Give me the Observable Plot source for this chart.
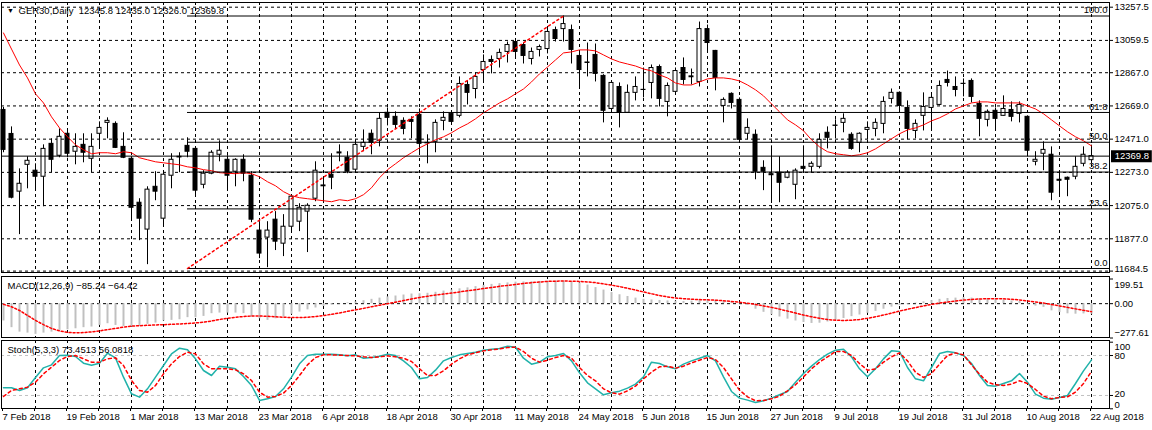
<!DOCTYPE html>
<html><head><meta charset="utf-8">
<script src="https://cdn.jsdelivr.net/npm/d3@7"></script>
<script src="https://cdn.jsdelivr.net/npm/@observablehq/plot@0.6"></script>
<style>
body{margin:0;background:#fff;}
#chart{position:relative;width:1152px;height:430px;overflow:hidden;background:#fff;}
#chart svg{display:block;}
</style></head><body><div id="chart"></div>
<script>
// ---------- data ----------
const symbol = "GER30", period = "Daily";
const dates = [
"2018-02-07","2018-02-08","2018-02-09","2018-02-12","2018-02-13","2018-02-14","2018-02-15","2018-02-16","2018-02-19","2018-02-20",
"2018-02-21","2018-02-22","2018-02-23","2018-02-26","2018-02-27","2018-02-28","2018-03-01","2018-03-02","2018-03-05","2018-03-06",
"2018-03-07","2018-03-08","2018-03-09","2018-03-12","2018-03-13","2018-03-14","2018-03-15","2018-03-16","2018-03-19","2018-03-20",
"2018-03-21","2018-03-22","2018-03-23","2018-03-26","2018-03-27","2018-03-28","2018-03-29","2018-04-03","2018-04-04","2018-04-05",
"2018-04-06","2018-04-09","2018-04-10","2018-04-11","2018-04-12","2018-04-13","2018-04-16","2018-04-17","2018-04-18","2018-04-19",
"2018-04-20","2018-04-23","2018-04-24","2018-04-25","2018-04-26","2018-04-27","2018-04-30","2018-05-02","2018-05-03","2018-05-04",
"2018-05-07","2018-05-08","2018-05-09","2018-05-10","2018-05-11","2018-05-14","2018-05-15","2018-05-16","2018-05-17","2018-05-18",
"2018-05-22","2018-05-23","2018-05-24","2018-05-25","2018-05-28","2018-05-29","2018-05-30","2018-05-31","2018-06-01","2018-06-04",
"2018-06-05","2018-06-06","2018-06-07","2018-06-08","2018-06-11","2018-06-12","2018-06-13","2018-06-14","2018-06-15","2018-06-18",
"2018-06-19","2018-06-20","2018-06-21","2018-06-22","2018-06-25","2018-06-26","2018-06-27","2018-06-28","2018-06-29","2018-07-02",
"2018-07-03","2018-07-04","2018-07-05","2018-07-06","2018-07-09","2018-07-10","2018-07-11","2018-07-12","2018-07-13","2018-07-16",
"2018-07-17","2018-07-18","2018-07-19","2018-07-20","2018-07-23","2018-07-24","2018-07-25","2018-07-26","2018-07-27","2018-07-30",
"2018-07-31","2018-08-01","2018-08-02","2018-08-03","2018-08-06","2018-08-07","2018-08-08","2018-08-09","2018-08-10","2018-08-13",
"2018-08-14","2018-08-15","2018-08-16","2018-08-17","2018-08-20","2018-08-21","2018-08-22"];

const open = [
12645,12502,12158,12318,12283,12247,12443,12372,12503,12396,
12437,12354,12503,12568,12562,12425,12354,12092,11932,12187,
11997,12253,12362,12431,12413,12199,12265,12378,12348,12277,
12348,12253,11926,11884,11991,11848,11949,11979,12039,12116,
12195,12259,12386,12360,12289,12425,12503,12461,12628,12604,
12580,12586,12616,12449,12455,12580,12622,12610,12794,12770,
12883,12943,12949,12991,13050,13032,12949,13003,13008,13121,
13127,13121,12967,12925,12973,12848,12651,12782,12628,12747,
12765,12806,12901,12693,12753,12895,12845,12812,13127,12997,
12669,12741,12705,12503,12497,12300,12262,12271,12241,12199,
12306,12306,12306,12509,12550,12568,12497,12449,12526,12532,
12562,12711,12747,12657,12520,12610,12657,12675,12824,12782,
12800,12818,12681,12586,12640,12610,12645,12622,12604,12336,
12384,12378,12229,12241,12247,12324,12345.8];
const high = [
12660,12544,12294,12366,12324,12437,12473,12532,12532,12503,
12503,12503,12574,12598,12574,12509,12366,12116,12187,12277,
12277,12384,12390,12479,12420,12283,12402,12461,12372,12354,
12378,12277,11979,11979,12039,12021,12134,12086,12086,12336,
12247,12384,12437,12396,12467,12526,12526,12628,12657,12634,
12598,12604,12651,12497,12586,12634,12634,12842,12818,12866,
12973,12967,13008,13050,13056,13044,13014,13032,13139,13139,
13205,13151,12991,13044,13038,12855,12812,12806,12794,12842,
12895,12913,12913,12806,12895,12955,12889,13169,13151,13000,
12717,12747,12717,12592,12526,12342,12431,12366,12283,12294,
12431,12336,12503,12544,12586,12622,12509,12509,12574,12592,
12723,12770,12753,12699,12586,12747,12747,12818,12877,12842,
12830,12830,12699,12645,12657,12729,12693,12693,12610,12396,
12455,12425,12277,12245,12366,12425,12435.0];
const low = [
12390,12115,11902,12175,12164,12068,12271,12360,12360,12318,
12330,12271,12413,12473,12415,12355,11991,11866,11723,12104,
11949,12175,12271,12360,12128,12175,12259,12336,12170,12187,
12217,11973,11759,11705,11807,11771,11914,11920,11795,12098,
12104,12170,12336,12265,12277,12396,12378,12425,12550,12532,
12497,12473,12384,12324,12390,12521,12556,12598,12675,12711,
12812,12860,12895,12925,12949,12919,12913,12961,12979,13050,
13050,12919,12776,12842,12812,12568,12640,12538,12625,12699,
12717,12711,12663,12604,12745,12794,12794,12782,12985,12759,
12568,12651,12449,12467,12229,12164,12092,12092,12235,12110,
12271,12271,12294,12413,12473,12509,12405,12390,12467,12485,
12503,12681,12628,12467,12473,12520,12532,12670,12782,12723,
12723,12687,12485,12544,12526,12608,12574,12568,12366,12312,
12283,12104,12128,12128,12229,12306,12326.0];
const close = [
12407,12122,12205,12342,12247,12413,12348,12485,12384,12425,
12390,12425,12538,12580,12419,12360,12062,11997,12170,12158,
12259,12348,12366,12396,12164,12265,12390,12402,12253,12348,
12265,11991,11789,11926,11860,11949,12128,12062,12074,12283,
12190,12241,12392,12277,12437,12449,12449,12592,12598,12556,
12532,12574,12443,12446,12568,12598,12574,12800,12747,12842,
12931,12931,12985,13032,12991,12967,12991,13020,13110,13068,
13157,13003,12883,12928,12860,12640,12806,12628,12747,12782,
12764,12895,12711,12788,12877,12824,12840,13127,13044,12836,
12705,12687,12467,12538,12277,12277,12256,12211,12271,12283,
12294,12324,12467,12479,12552,12592,12413,12503,12538,12568,
12693,12747,12669,12532,12562,12663,12717,12788,12806,12764,
12801,12723,12592,12634,12592,12651,12604,12675,12402,12348,
12407,12152,12223,12229,12306,12378,12369.8];
const ma = [
13104,13008,12913,12836,12741,12687,12604,12538,12485,12437,
12408,12384,12390,12390,12384,12396,12390,12360,12348,12336,
12330,12324,12318,12306,12300,12289,12283,12271,12268,12265,
12271,12265,12247,12217,12193,12158,12134,12122,12116,12110,
12104,12098,12110,12104,12116,12140,12181,12241,12289,12324,
12360,12390,12419,12443,12467,12485,12509,12538,12562,12592,
12628,12657,12687,12711,12741,12770,12812,12860,12901,12943,
12985,12991,13003,13003,12997,12973,12949,12931,12919,12907,
12889,12878,12854,12836,12806,12794,12794,12812,12830,12836,
12836,12830,12818,12794,12765,12729,12681,12634,12586,12556,
12521,12467,12425,12396,12384,12378,12372,12378,12390,12413,
12443,12473,12503,12526,12538,12556,12580,12598,12622,12651,
12669,12687,12693,12693,12687,12687,12687,12687,12669,12651,
12622,12586,12550,12515,12485,12461,12431];
const macdMain = [
-140,-194,-230,-238,-248,-238,-230,-216,-211,-203,
-194,-189,-176,-162,-176,-184,-189,-184,-167,-157,
-140,-135,-130,-113,-113,-103,-81,-76,-76,-76,
-81,-108,-122,-135,-122,-108,-86,-68,-50,-35,
-22,-10,-2,6,15,24,35,45,55,62,
70,78,80,84,92,102,110,120,128,138,
148,156,162,168,174,176,178,180,182,184,
182,175,168,150,130,110,90,72,58,45,
35,30,26,22,20,18,20,28,30,28,
22,15,8,-15,-45,-70,-90,-108,-125,-140,
-152,-160,-158,-148,-135,-120,-105,-92,-78,-62,
-45,-28,-15,-5,5,15,25,35,42,45,
48,45,40,38,35,30,22,18,-5,-20,
-30,-58,-72,-82,-85,-83,-85.24];
const macdSignal = [
-5,-25,-55,-95,-135,-170,-200,-220,-232,-236,
-234,-228,-220,-210,-200,-190,-182,-178,-175,-172,
-170,-167,-164,-160,-156,-150,-140,-128,-118,-110,
-104,-100,-100,-102,-106,-110,-112,-112,-110,-104,
-96,-86,-75,-62,-50,-38,-25,-12,0,12,
25,38,50,60,70,78,86,95,104,113,
122,131,140,148,156,163,170,175,180,182,
183,182,180,176,170,160,150,138,125,110,
95,80,66,55,46,40,36,33,31,28,
24,18,12,4,-6,-18,-30,-44,-60,-76,
-92,-106,-118,-128,-134,-136,-134,-128,-118,-106,
-92,-76,-60,-45,-32,-18,-6,5,14,22,
29,34,38,40,40,39,36,30,22,14,
5,-6,-18,-30,-42,-54,-64.42];
const stochMain = [
31.5,31.5,27.5,31.5,47,61.5,66,80,80.5,78.5,
68.5,65.5,68.5,83.5,76.5,47.5,22.5,17.5,30,47.5,
65,82.5,91,88.5,75,57.5,50,64,62.5,60,
48.5,35,12.5,15,18.5,30,47.5,67.5,80,82,
82,82,81,79.5,81,76,77,79,82,80,
72,62,45,47,58,72,77,81,83,85,
88,89.5,90.5,94,92.5,76,67,70,78,80,
83,72,54,39,30,21,24,26.5,31,37,
48,70,68,63,60,67,72,76,80,72,
48,26,16,13,9.5,12,16,21,26,40,
53,64,74,82,88,89.5,78,60,48,60,
75,87,86,62,45,42,62,83,86,84,
80,68,50,35,34,38,42,53,40,22,
16,14.5,17,20,38,57,73.4513];
const stochSignal = [
18.5,27.5,30,32.5,40,52.5,62.5,72.5,78.5,80,
75,70,70,75,76.5,65,42.5,27.5,25,35,
52.5,67.5,78.5,85,82.5,67.5,60,60,60,58.5,
52.5,42.5,25,17.5,18.5,23.5,35,50,66,77,
81,81,80.5,80,79.5,78,77,78,79.5,78,
76,71,60,50,50,57,67,75,81,84,
87,88.5,90,92,92.5,86,76,70,73,77,
80,76,62,50,42,30,24,22,27,34,
45,55,63,64,61,64,69,73,77,74,
62,45,28,18,12,12.5,15,19,27,36,
48,60,70,78,86,86,80,68,58,60,
70,78,84,72,55,47,53,67,80,84,
81,66,52,40,36,35,37,42,38,29,
19,15,17,18,25,38,56.0818];

const priceTicks = [13257.5, 13059.5, 12867.0, 12669.0, 12471.0, 12273.0, 12075.0, 11877.0, 11684.5];
const macdTicks = [199.51, 0, -277.61];
const stochTicks = [100, 80, 20, 0];
const stochLevels = [80, 20];
const dateTickLabels = ["7 Feb 2018","19 Feb 2018","1 Mar 2018","13 Mar 2018","23 Mar 2018","6 Apr 2018","18 Apr 2018","30 Apr 2018","11 May 2018","24 May 2018","5 Jun 2018","15 Jun 2018","27 Jun 2018","9 Jul 2018","19 Jul 2018","31 Jul 2018","10 Aug 2018","22 Aug 2018"];
const fibLevels = [0, 23.6, 38.2, 50.0, 61.8, 100.0];
const fibLow = 11700, fibHigh = 13205;
const fibStartDate = "2018-03-12", fibEndDate = "2018-05-22";

// ---------- build ----------
const N = dates.length;
const fmtDate = d3.utcFormat("%-d %b %Y");
const bars = dates.map((d, i) => ({i, date: d, o: open[i], h: high[i], l: low[i], c: close[i], ma: ma[i],
  m: macdMain[i], s: macdSignal[i], k: stochMain[i], ks: stochSignal[i]}));
const xDomain = [-0.25, N + 1.25];
const xRange = [1, 1109];
const gridIdx = bars.filter(b => b.i > 0 && b.i % 4 === 0).map(b => b.i);
const labelAt = new Map(dateTickLabels.map(t => [dates.findIndex(d => fmtDate(new Date(d)) === t), t]));
const axisTicks = [0, ...gridIdx];
const fibStart = dates.indexOf(fibStartDate), fibEnd = dates.indexOf(fibEndDate);
const fib = fibLevels.map(p => ({p, price: fibLow + (fibHigh - fibLow) * p / 100}));
const last = close[N - 1];
const gutter = [xDomain[1] + 0.25, xDomain[1] + 5.35];
const FONT = 'Tahoma, "Liberation Sans", "DejaVu Sans", sans-serif';
const DASH = "3,3";
const style = {fontFamily: FONT, fontSize: "9.5px", background: "#fff", color: "#000", overflow: "visible"};
const f1 = d3.format(".1f"), f2 = d3.format(".2f");
const nb = s => s.replace(/ /g, "\u00a0");

// right-hand price scale: ticks plus labels; edge labels are nudged inside their pane
function rightAxis(ticks, fmt, nudge) {
  const marks = [Plot.axisY(ticks, {anchor: "right", tickSize: 3, tickFormat: () => "", label: null})];
  const groups = d3.group(ticks, t => nudge.get(t) ?? 0);
  for (const [dy, ts] of groups) {
    marks.push(Plot.axisY(ts, {anchor: "right", tickSize: 0, tickPadding: 5, dy, tickFormat: fmt, label: null}));
  }
  return marks;
}

const main = Plot.plot({
  width: 1152, height: 274, marginLeft: 1, marginRight: 43, marginTop: 2, marginBottom: 2,
  style,
  x: {domain: xDomain, range: xRange, axis: null},
  y: {domain: [11684.5, 13257.5], range: [270.6, 6.7], label: null},
  marks: [
    Plot.ruleY(priceTicks, {stroke: "#000", strokeDasharray: DASH}),
    Plot.ruleX(gridIdx, {stroke: "#000", strokeDasharray: DASH}),
    Plot.ruleX(bars, {x: "i", y1: "l", y2: "h", stroke: "#000"}),
    Plot.rect(bars, {x1: d => d.i - 0.25, x2: d => d.i + 0.25, y1: "o", y2: "c",
      fill: d => d.c >= d.o ? "#fff" : "#000", stroke: "#000"}),
    Plot.line(bars, {x: "i", y: "ma", stroke: "#ff0000", strokeWidth: 1}),
    Plot.ruleY(fib, {y: "price", x1: fibStart, x2: xDomain[1], stroke: "#000"}),
    Plot.text(fib, {y: "price", x: xDomain[1], text: d => f1(d.p), textAnchor: "end", dx: -2, dy: -6}),
    Plot.line([{i: fibStart, price: fibLow}, {i: fibEnd, price: fibHigh}], {x: "i", y: "price", stroke: "#ff0000", strokeDasharray: "2,3"}),
    Plot.ruleY([last], {stroke: "#000"}),
    ...rightAxis(priceTicks, f1, new Map([[11684.5, -2]])),
    Plot.ruleY([last], {x1: gutter[0], x2: gutter[1], stroke: "#000", strokeWidth: 12}),
    Plot.text([last], {y: d => d, x: (gutter[0] + gutter[1]) / 2, text: f1, fill: "#fff"}),
    Plot.frame({stroke: "#000"}),
    Plot.text(["\u25BC"], {frameAnchor: "top-left", dx: 9, dy: 8, fontSize: 7, lineAnchor: "middle", textAnchor: "middle"}),
    Plot.text([nb(`${symbol},${period}  ${f1(open[N-1])} ${f1(high[N-1])} ${f1(low[N-1])} ${f1(close[N-1])}`)],
      {frameAnchor: "top-left", dx: 17, dy: 8, lineAnchor: "middle", textAnchor: "start"})
  ]
});

const macd = Plot.plot({
  width: 1152, height: 65, marginLeft: 1, marginRight: 43, marginTop: 2, marginBottom: 2,
  style,
  x: {domain: xDomain, range: xRange, axis: null},
  y: {domain: [-277.61, 199.51], range: [63.5, 4.5], label: null},
  marks: [
    Plot.ruleX(gridIdx, {stroke: "#000", strokeDasharray: DASH}),
    Plot.ruleY([0], {stroke: "#000", strokeDasharray: DASH}),
    Plot.ruleX(bars, {x: "i", y1: 0, y2: "m", stroke: "#c0c0c0", strokeWidth: 2}),
    Plot.line(bars, {x: "i", y: "s", stroke: "#ff0000", strokeDasharray: "2,2"}),
    ...rightAxis(macdTicks, f2, new Map([[199.51, 5.5], [-277.61, -5.5]])),
    Plot.frame({stroke: "#000"}),
    Plot.text([nb(`MACD(12,26,9) ${f2(macdMain[N-1])} ${f2(macdSignal[N-1])}`)],
      {frameAnchor: "top-left", dx: 6, dy: 9, lineAnchor: "middle", textAnchor: "start"})
  ]
});

const stoch = Plot.plot({
  width: 1152, height: 91, marginLeft: 1, marginRight: 43, marginTop: 1, marginBottom: 22,
  style,
  x: {domain: xDomain, range: xRange, label: null},
  y: {domain: [0, 100], range: [69.3, 2.7], label: null},
  marks: [
    Plot.ruleX(gridIdx, {stroke: "#000", strokeDasharray: DASH}),
    Plot.ruleY(stochLevels, {stroke: "#c0c0c0", strokeDasharray: DASH}),
    Plot.line(bars, {x: "i", y: "k", stroke: "#20b2aa"}),
    Plot.line(bars, {x: "i", y: "ks", stroke: "#ff0000", strokeDasharray: "3,3"}),
    ...rightAxis(stochTicks, d => String(d), new Map([[100, 4.5], [20, -1.5], [0, -4]])),
    Plot.axisX(axisTicks, {anchor: "bottom", tickSize: 3, tickPadding: 2, textAnchor: "start", dx: -1,
      tickFormat: i => labelAt.get(i) ?? "", label: null}),
    Plot.frame({stroke: "#000"}),
    Plot.text([nb(`Stoch(5,3,3) ${stochMain[N-1].toFixed(4)} ${stochSignal[N-1].toFixed(4)}`)],
      {frameAnchor: "top-left", dx: 6, dy: 9, lineAnchor: "middle", textAnchor: "start"})
  ]
});

const root = document.getElementById("chart");
root.append(main, macd, stoch);
</script>
</body></html>
